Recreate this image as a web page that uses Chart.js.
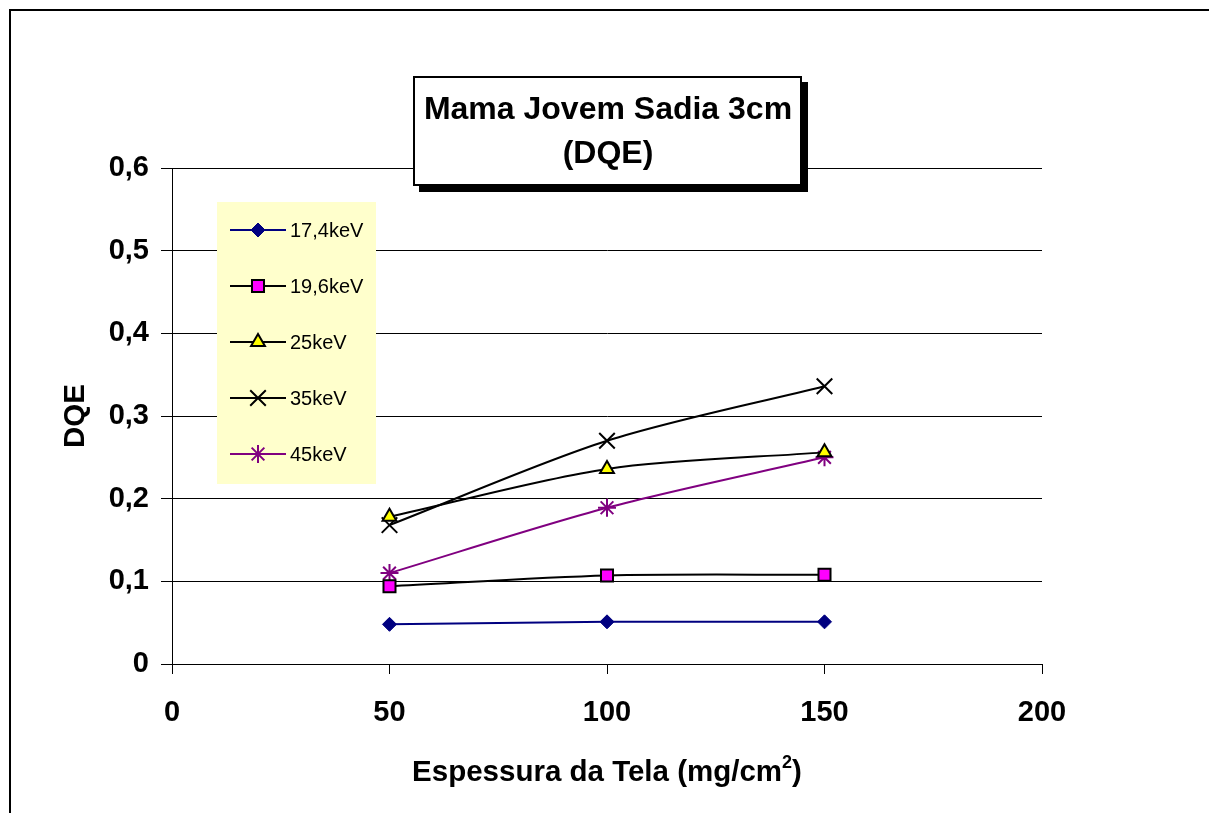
<!DOCTYPE html>
<html>
<head>
<meta charset="utf-8">
<script src="https://cdn.jsdelivr.net/npm/chart.js@4.4.1/dist/chart.umd.min.js"></script>
<style>
  html, body { margin: 0; padding: 0; background: #fff; }
  #wrap { width: 1209px; height: 813px; position: relative; }
</style>
</head>
<body>
<div id="wrap"><canvas id="c" width="1209" height="813"></canvas></div>
<script>
// Screen thickness (mg/cm2) and DQE per beam energy
const thickness = [50, 100, 150];
const dqe174 = [0.048, 0.051, 0.051];
const dqe196 = [0.094, 0.107, 0.108];
const dqe25  = [0.178, 0.236, 0.256];
const dqe35  = [0.168, 0.270, 0.336];
const dqe45  = [0.110, 0.189, 0.250];
const seriesNames = ['17,4keV', '19,6keV', '25keV', '35keV', '45keV'];
const xTickLabels = ['0', '50', '100', '150', '200'];
const yTickLabels = ['0', '0,1', '0,2', '0,3', '0,4', '0,5', '0,6'];
const chartTitle = ['Mama Jovem Sadia 3cm', '(DQE)'];
const xTitle = 'Espessura da Tela (mg/cm';
const xTitleSup = '2';
const xTitleEnd = ')';
const yTitle = 'DQE';

const FONT = '"Liberation Sans", Arial, Helvetica, sans-serif';

function pts(values) {
  return thickness.map((x, i) => ({ x: x, y: values[i] }));
}

const styles = [
  { color: '#000080', fill: '#000080', edge: '#000080', pointStyle: 'rectRot', radius: 7, bw: 1 },
  { color: '#000000', fill: '#FF00FF', edge: '#000000', pointStyle: 'rect', radius: 8.5, bw: 2 },
  { color: '#000000', fill: '#FFFF00', edge: '#000000', pointStyle: 'triangle', radius: 8, bw: 2 },
  { color: '#000000', fill: '#000000', edge: '#000000', pointStyle: 'crossRot', radius: 11, bw: 2 },
  { color: '#800080', fill: '#800080', edge: '#800080', pointStyle: 'star', radius: 9, bw: 2 }
];
const seriesValues = [dqe174, dqe196, dqe25, dqe35, dqe45];

const datasets = seriesValues.map((vals, i) => ({
  label: seriesNames[i],
  data: pts(vals),
  borderColor: styles[i].color,
  backgroundColor: styles[i].fill,
  borderWidth: 2,
  tension: 0.3,
  pointStyle: styles[i].pointStyle,
  pointRadius: styles[i].radius,
  pointHoverRadius: styles[i].radius,
  pointBackgroundColor: styles[i].fill,
  pointBorderColor: styles[i].edge,
  pointBorderWidth: styles[i].bw,
  fill: false
}));

// Page frame, title box, legend box and axis titles
const decorations = {
  id: 'decorations',
  beforeDraw(chart) {
    const ctx = chart.ctx;
    ctx.save();
    ctx.fillStyle = '#ffffff';
    ctx.fillRect(0, 0, chart.width, chart.height);
    ctx.fillStyle = '#000000';
    ctx.fillRect(9, 9, chart.width - 9, 2);
    ctx.fillRect(9, 9, 2, chart.height - 9);
    ctx.restore();
  },
  afterDraw(chart) {
    const ctx = chart.ctx;
    const area = chart.chartArea;
    ctx.save();

    // title box with drop shadow
    const bx = 413, by = 76, bw = 389, bh = 110;
    ctx.fillStyle = '#000000';
    ctx.fillRect(bx + 6, by + 6, bw, bh);
    ctx.fillStyle = '#ffffff';
    ctx.fillRect(bx, by, bw, bh);
    ctx.strokeStyle = '#000000';
    ctx.lineWidth = 2;
    ctx.strokeRect(bx + 1, by + 1, bw - 2, bh - 2);
    ctx.fillStyle = '#000000';
    ctx.font = 'bold 32px ' + FONT;
    ctx.textAlign = 'center';
    ctx.textBaseline = 'middle';
    ctx.fillText(chartTitle[0], 608, 110);
    ctx.fillText(chartTitle[1], 608, 154);

    // legend
    const lx = 217, ly = 202, lw = 159, lh = 282;
    ctx.fillStyle = '#FFFFCC';
    ctx.fillRect(lx, ly, lw, lh);
    chart.data.datasets.forEach((ds, i) => {
      const y = 230 + 56 * i;
      ctx.strokeStyle = ds.borderColor;
      ctx.lineWidth = 2;
      ctx.beginPath();
      ctx.moveTo(230, y);
      ctx.lineTo(286, y);
      ctx.stroke();
      ctx.fillStyle = ds.pointBackgroundColor;
      ctx.strokeStyle = ds.pointBorderColor;
      ctx.lineWidth = ds.pointBorderWidth;
      Chart.helpers.drawPoint(ctx, {
        pointStyle: ds.pointStyle,
        radius: ds.pointRadius,
        rotation: 0,
        borderWidth: ds.pointBorderWidth
      }, 258, y);
      ctx.fillStyle = '#000000';
      ctx.font = '20px ' + FONT;
      ctx.textAlign = 'left';
      ctx.textBaseline = 'middle';
      ctx.fillText(ds.label, 290, y + 1);
    });

    // x axis title with superscript
    ctx.fillStyle = '#000000';
    ctx.textBaseline = 'alphabetic';
    ctx.textAlign = 'left';
    ctx.font = 'bold 29.5px ' + FONT;
    const w1 = ctx.measureText(xTitle).width;
    ctx.font = 'bold 18px ' + FONT;
    const w2 = ctx.measureText(xTitleSup).width;
    ctx.font = 'bold 29.5px ' + FONT;
    const w3 = ctx.measureText(xTitleEnd).width;
    const total = w1 + w2 + w3;
    let x0 = (area.left + area.right) / 2 - total / 2;
    const base = 781;
    ctx.fillText(xTitle, x0, base);
    ctx.font = 'bold 18px ' + FONT;
    ctx.fillText(xTitleSup, x0 + w1, base - 13);
    ctx.font = 'bold 29.5px ' + FONT;
    ctx.fillText(xTitleEnd, x0 + w1 + w2, base);

    // y axis title
    ctx.translate(76, (area.top + area.bottom) / 2);
    ctx.rotate(-Math.PI / 2);
    ctx.textAlign = 'center';
    ctx.textBaseline = 'middle';
    ctx.fillText(yTitle, 0, 0);
    ctx.restore();
  }
};

new Chart(document.getElementById('c'), {
  type: 'line',
  data: { datasets: datasets },
  options: {
    responsive: false,
    animation: false,
    devicePixelRatio: 1,
    layout: { padding: { left: 0, top: 168, right: 167, bottom: 0 } },
    plugins: { legend: { display: false }, title: { display: false }, tooltip: { enabled: false } },
    scales: {
      x: {
        type: 'linear',
        min: 0, max: 200,
        afterFit(scale) { scale.height = 149; },
        ticks: {
          stepSize: 50,
          padding: 22,
          color: '#000000',
          font: { family: FONT, size: 29, weight: 'bold' },
          callback: (v, i) => xTickLabels[i]
        },
        grid: { drawOnChartArea: false, drawTicks: true, tickLength: 10, color: '#000000', lineWidth: 1 },
        border: { display: true, color: '#000000', width: 1 }
      },
      y: {
        type: 'linear',
        min: 0, max: 0.6,
        afterFit(scale) { scale.width = 172; },
        ticks: {
          stepSize: 0.1,
          padding: 12,
          color: '#000000',
          font: { family: FONT, size: 29, weight: 'bold' },
          callback: (v, i) => yTickLabels[i]
        },
        grid: { drawOnChartArea: true, drawTicks: true, tickLength: 11, color: '#000000', lineWidth: 1 },
        border: { display: true, color: '#000000', width: 1 }
      }
    }
  },
  plugins: [decorations]
});
</script>
</body>
</html>
